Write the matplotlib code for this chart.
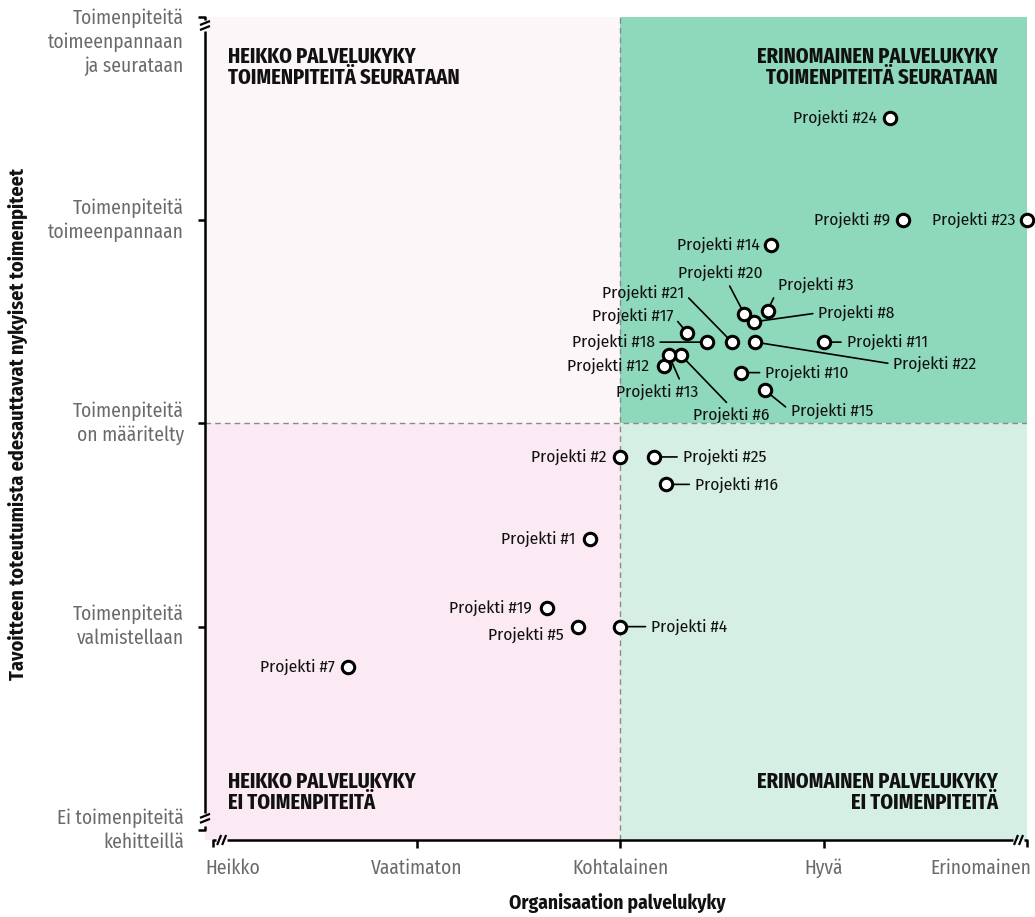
import matplotlib
matplotlib.use("Agg")
import matplotlib.pyplot as plt
from matplotlib.patches import Rectangle
from matplotlib.lines import Line2D

# ---------------- data ----------------
projects = [f"Projekti #{i}" for i in range(1, 26)]
service_capacity = [1.85, 2.00, 2.725, 2.00, 1.795, 2.30, 0.665, 2.66, 3.39, 2.595,
                    3.00, 2.215, 2.24, 2.74, 2.71, 2.225, 2.33, 2.425, 1.64, 2.61,
                    2.55, 2.665, 4.00, 3.325, 2.165]
measures = [1.43, 1.835, 2.555, 1.00, 1.00, 2.335, 0.80, 2.50, 3.00, 2.25,
            2.40, 2.285, 2.335, 2.88, 2.165, 1.70, 2.445, 2.40, 1.09, 2.54,
            2.40, 2.40, 3.00, 3.505, 1.835]

x_ticklabels = ["Heikko", "Vaatimaton", "Kohtalainen", "Hyvä", "Erinomainen"]
y_ticklabels = ["Ei toimenpiteitä\nkehitteillä", "Toimenpiteitä\nvalmistellaan",
                "Toimenpiteitä\non määritelty", "Toimenpiteitä\ntoimeenpannaan",
                "Toimenpiteitä\ntoimeenpannaan\nja seurataan"]
quadrant_titles = ["HEIKKO PALVELUKYKY\nTOIMENPITEITÄ SEURATAAN",
                   "ERINOMAINEN PALVELUKYKY\nTOIMENPITEITÄ SEURATAAN",
                   "HEIKKO PALVELUKYKY\nEI TOIMENPITEITÄ",
                   "ERINOMAINEN PALVELUKYKY\nEI TOIMENPITEITÄ"]
x_title = "Organisaation palvelukyky"
y_title = "Tavoitteen toteutumista edesauttavat nykyiset toimenpiteet"

# ---------------- label layout (pixel offsets) ----------------
# (dx, dy, ha, leader relpos or None)
label_layout = {
    1: (-14, 0, 'right', None), 2: (-14, 0, 'right', None),
    3: (10, 26, 'left', (0, 0.2)), 4: (31, 0, 'left', (0, 0.5)),
    5: (-15, -8, 'right', None), 6: (50, -60, 'center', (0.5, 1)),
    7: (-14, 0, 'right', None), 8: (64, 9, 'left', (0, 0.5)),
    9: (-13, 0, 'right', None), 10: (24, 0, 'left', (0, 0.5)),
    11: (23, 0, 'left', (0, 0.5)), 12: (-15, 0, 'right', None),
    13: (-12, -37, 'center', (0.8, 1)), 14: (-11, 0, 'right', None),
    15: (26, -21, 'left', (0, 0.5)), 16: (29, 0, 'left', (0, 0.5)),
    17: (-14, 17, 'right', (1, 0.5)), 18: (-52, 0, 'right', (1, 0.5)),
    19: (-15, 0, 'right', None), 20: (-24, 41, 'center', (0.58, 0)),
    21: (-48, 49, 'right', (1, 0.5)), 22: (138, -22, 'left', (0, 0.5)),
    23: (-12, 0, 'right', None), 24: (-13, 0, 'right', None),
    25: (29, 0, 'left', (0, 0.5)),
}

FONT = 'Fira Sans Condensed'
FONT_X = 'Fira Sans Extra Condensed'
W, H = 1035, 917
fig = plt.figure(figsize=(W / 100, H / 100), dpi=100)
L, R, T, B = 205, 1027, 17, 840
ax = fig.add_axes([L / W, 1 - B / H, (R - L) / W, (B - T) / H])
XMIN, XMAX, YMIN, YMAX = -0.04, 4.0, -0.05, 4.0
ax.set_xlim(XMIN, XMAX)
ax.set_ylim(YMIN, YMAX)
for s in ax.spines.values():
    s.set_visible(False)
ax.set_xticks([])
ax.set_yticks([])

# quadrant backgrounds
bg = [((XMIN, 2), 2 - XMIN, YMAX - 2, '#fdf6f9'),
      ((2, 2), XMAX - 2, YMAX - 2, '#8ed9bb'),
      ((XMIN, YMIN), 2 - XMIN, 2 - YMIN, '#fbe9f3'),
      ((2, YMIN), XMAX - 2, 2 - YMIN, '#d5efe4')]
for (xy, w, h, c) in bg:
    ax.add_patch(Rectangle(xy, w, h, facecolor=c, edgecolor='none', zorder=0))
ax.axvline(2, color='#8a8a8a', lw=1, ls=(0, (4, 3)), zorder=1)
ax.axhline(2, color='#8a8a8a', lw=1, ls=(0, (4, 3)), zorder=1)

# quadrant titles (pixel positions, top-left origin)
tkw = dict(family=FONT_X, weight='bold', fontsize=16, color='#111111',
           linespacing=1.0, zorder=3, transform=None, va='center')
fig.text(228, H - 67, quadrant_titles[0], ha='left', **tkw)
fig.text(998, H - 67, quadrant_titles[1], ha='right', multialignment='right', **tkw)
fig.text(228, H - 792, quadrant_titles[2], ha='left', **tkw)
fig.text(998, H - 792, quadrant_titles[3], ha='right', multialignment='right', **tkw)

# points
ax.scatter(service_capacity, measures, s=80, facecolor='white', edgecolor='black',
           linewidth=2.2, zorder=5, clip_on=False)

# labels
for i, (name, xv, yv) in enumerate(zip(projects, service_capacity, measures), start=1):
    dx, dy, ha, rel = label_layout[i]
    kw = dict(textcoords='offset pixels', ha=ha, va='center', family=FONT,
              fontsize=12.5, color='#111111', zorder=4)
    if rel is not None:
        kw['arrowprops'] = dict(arrowstyle='-', lw=1.2, color='black', relpos=rel,
                                shrinkA=2, shrinkB=4.5)
    ax.annotate(name, (xv, yv), xytext=(dx, dy), **kw)

# --- axes lines with break marks (drawn in display pixels) ---
fig.canvas.draw()
def line(pts, lw=1.8):
    xs = [p[0] for p in pts]
    ys = [H - p[1] for p in pts]
    fig.add_artist(Line2D(xs, ys, transform=None, color='black', lw=lw,
                          solid_capstyle='butt'))
def tl(xv, yv):
    d = ax.transData.transform((xv, yv))
    return d[0], H - d[1]

x0p, _ = tl(0, 0)
x4p, _ = tl(4, 0)
_, y0p = tl(0, 0)
_, y4p = tl(0, 4)
axx = L
axy = B

# y axis
line([(axx, y4p + 14), (axx, y0p - 17)])
line([(axx - 7, y4p), (axx, y4p), (axx, y4p + 3)])
line([(axx - 5, y4p + 8), (axx + 5, y4p + 4)], lw=1.6)
line([(axx - 5, y4p + 13), (axx + 5, y4p + 9)], lw=1.6)
line([(axx - 5, y0p - 12), (axx + 5, y0p - 16)], lw=1.6)
line([(axx - 5, y0p - 7), (axx + 5, y0p - 11)], lw=1.6)
line([(axx, y0p - 4), (axx, y0p), (axx - 7, y0p)])
for v in (1, 2, 3):
    _, yp = tl(0, v)
    line([(axx - 7, yp), (axx, yp)])

# x axis
line([(x0p + 14, axy), (x4p - 14, axy)])
line([(x0p, axy + 7), (x0p, axy), (x0p + 3, axy)])
line([(x0p + 4, axy + 5), (x0p + 8, axy - 5)], lw=1.6)
line([(x0p + 9, axy + 5), (x0p + 13, axy - 5)], lw=1.6)
line([(x4p - 13, axy + 5), (x4p - 9, axy - 5)], lw=1.6)
line([(x4p - 8, axy + 5), (x4p - 4, axy - 5)], lw=1.6)
line([(x4p - 3, axy), (x4p, axy), (x4p, axy + 7)])
for v in (1, 2, 3):
    xp, _ = tl(v, 0)
    line([(xp, axy), (xp, axy + 8)])

# tick labels
lab_kw = dict(family=FONT, fontsize=14, color='#6a6a6a', transform=None)
for v, t in enumerate(x_ticklabels):
    xp, _ = tl(v, 0)
    if v == 0:
        fig.text(205, H - 868, t, ha='left', va='center', **lab_kw)
    elif v == 4:
        fig.text(1031, H - 868, t, ha='right', va='center', **lab_kw)
    else:
        fig.text(xp, H - 868, t, ha='center', va='center', **lab_kw)
for v, t in enumerate(y_ticklabels):
    _, yp = tl(0, v)
    if v == 4:
        fig.text(184, H - (yp - 9), t, ha='right', va='top', multialignment='right',
                 linespacing=1.3, **lab_kw)
    else:
        fig.text(184, H - yp, t, ha='right', va='center', multialignment='right',
                 linespacing=1.3, **lab_kw)

# axis titles
fig.text(617, H - 903, x_title, ha='center', va='center', family=FONT,
         weight='bold', fontsize=14, color='#111111', transform=None)
fig.text(18, H - 424, y_title, ha='center', va='center', rotation=90, family=FONT,
         weight='bold', fontsize=14.5, color='#111111', transform=None)

fig.savefig("out.png", dpi=100)
